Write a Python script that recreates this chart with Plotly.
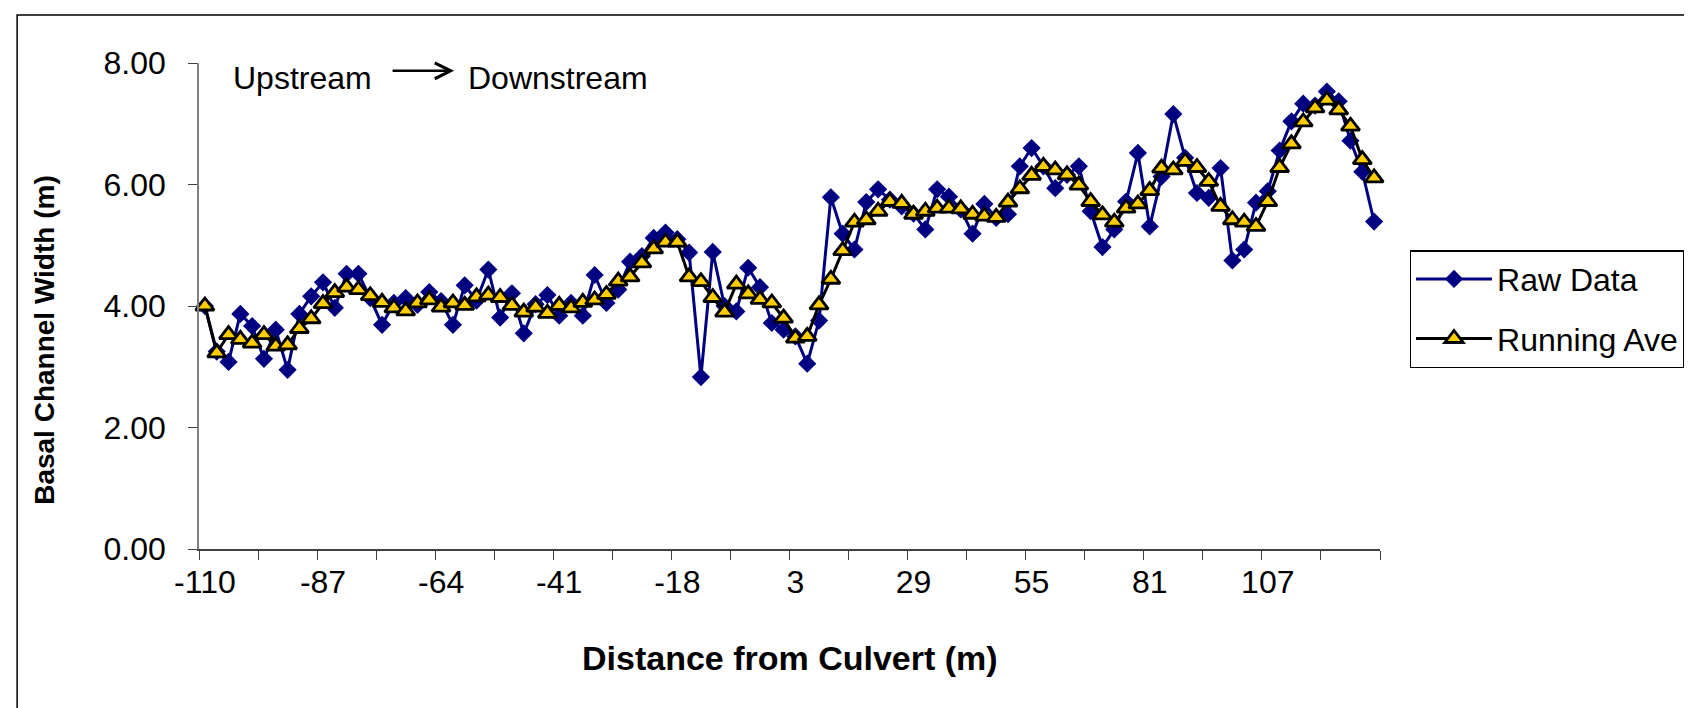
import plotly.graph_objects as go

# distance labels shown under every 10th survey point
tick_labels = ["-110", "-87", "-64", "-41", "-18", "3", "29", "55", "81", "107"]

raw_data = [
    4.00, 3.25, 3.08, 3.87, 3.67, 3.13, 3.61, 2.95, 3.87, 4.16,
    4.39, 3.97, 4.53, 4.53, 4.13, 3.69, 4.05, 4.13, 4.02, 4.23,
    4.08, 3.69, 4.34, 4.09, 4.60, 3.81, 4.21, 3.55, 4.03, 4.18,
    3.84, 4.05, 3.84, 4.51, 4.05, 4.27, 4.73, 4.82, 5.12, 5.21,
    5.10, 4.88, 2.83, 4.89, 4.00, 3.91, 4.63, 4.31, 3.72, 3.61,
    3.50, 3.05, 3.76, 5.79, 5.19, 4.93, 5.71, 5.92, 5.75, 5.64,
    5.52, 5.26, 5.92, 5.80, 5.59, 5.19, 5.68, 5.45, 5.51, 6.30,
    6.60, 6.30, 5.94, 6.16, 6.30, 5.56, 4.97, 5.26, 5.72, 6.52,
    5.31, 6.13, 7.16, 6.44, 5.86, 5.78, 6.27, 4.75, 4.93, 5.70,
    5.89, 6.56, 7.04, 7.33, 7.30, 7.53, 7.37, 6.72, 6.21, 5.39,
]

running_ave = [
    4.00, 3.23, 3.53, 3.45, 3.39, 3.53, 3.34, 3.36, 3.63, 3.79,
    4.04, 4.22, 4.31, 4.27, 4.17, 4.06, 3.97, 3.92, 4.05, 4.10,
    3.98, 4.05, 4.01, 4.15, 4.18, 4.14, 4.01, 3.90, 3.98, 3.88,
    4.01, 3.97, 4.06, 4.10, 4.19, 4.41, 4.48, 4.71, 4.94, 5.05,
    5.05, 4.48, 4.40, 4.14, 3.90, 4.36, 4.20, 4.11, 4.05, 3.80,
    3.47, 3.50, 4.02, 4.44, 4.91, 5.38, 5.42, 5.56, 5.72, 5.69,
    5.51, 5.56, 5.61, 5.61, 5.60, 5.51, 5.48, 5.46, 5.71, 5.93,
    6.15, 6.30, 6.24, 6.16, 5.99, 5.72, 5.50, 5.38, 5.61, 5.68,
    5.90, 6.27, 6.24, 6.38, 6.28, 6.05, 5.64, 5.42, 5.38, 5.31,
    5.72, 6.28, 6.67, 7.03, 7.26, 7.39, 7.23, 6.96, 6.41, 6.11,
]

pos = list(range(len(raw_data)))
FONT = "Liberation Sans, Arial, sans-serif"

fig = go.Figure()
fig.add_trace(go.Scatter(
    x=pos, y=raw_data, name="Raw Data", mode="lines+markers",
    line=dict(color="#000080", width=3),
    marker=dict(symbol="diamond", size=14, color="#000080"),
    cliponaxis=False, legendgroup="a",
))
fig.add_trace(go.Scatter(
    x=pos, y=running_ave, name="Running Ave", mode="lines+markers",
    line=dict(color="#000000", width=3),
    marker=dict(symbol="triangle-up", size=16, color="#FFCC00",
                line=dict(color="#000000", width=2.8)),
    cliponaxis=False, legendgroup="b",
))

fig.update_xaxes(
    range=[-0.5, len(pos) - 0.5],
    tickmode="array", tickvals=pos[::10], ticktext=tick_labels,
    ticks="", ticklabelstandoff=4,
    tickfont=dict(family=FONT, size=32, color="#000000"),
    showline=True, linecolor="#404040", linewidth=1.5,
    showgrid=False, zeroline=False,
    minor=dict(tickmode="array", tickvals=[p - 0.5 for p in pos[::5]] + [len(pos) - 0.5],
               ticks="outside", ticklen=9, tickwidth=1.3, tickcolor="#404040"),
)
fig.update_yaxes(
    range=[0, 8], tickvals=[0, 2, 4, 6, 8], tickformat=".2f",
    ticks="outside", ticklen=9, tickwidth=1.3, tickcolor="#404040",
    ticklabelstandoff=16,
    tickfont=dict(family=FONT, size=32, color="#000000"),
    showline=True, linecolor="#808080", linewidth=1.5,
    showgrid=False, zeroline=False,
)

fig.add_annotation(xref="paper", yref="paper", x=0.5, y=-0.224,
                   xanchor="center", yanchor="middle",
                   text="<b>Distance from Culvert (m)</b>", showarrow=False,
                   font=dict(family=FONT, size=34, color="#000000"))
fig.add_annotation(xref="paper", yref="paper", x=-0.131, y=0.431,
                   xanchor="center", yanchor="middle",
                   text="<b>Basal Channel Width (m)</b>", showarrow=False, textangle=-90,
                   font=dict(family=FONT, size=28, color="#000000"))

fig.add_annotation(xref="paper", yref="paper", x=0.027, y=0.97,
                   xanchor="left", yanchor="middle",
                   text="Upstream", showarrow=False,
                   font=dict(family=FONT, size=32, color="#000000"))
fig.add_annotation(xref="paper", yref="paper", x=0.2265, y=0.97,
                   xanchor="left", yanchor="middle",
                   text="Downstream", showarrow=False,
                   font=dict(family=FONT, size=32, color="#000000"))
fig.add_annotation(xref="paper", yref="paper", x=0.216, y=0.984, ax=-63, ay=0,
                   text="", showarrow=True, arrowhead=5, arrowsize=1.2,
                   arrowwidth=2.6, arrowcolor="#000000")

# outer chart frame
fig.add_shape(type="rect", xref="paper", yref="paper",
              x0=-0.154, x1=1.268, y0=-0.333, y1=1.099,
              line=dict(color="#000000", width=1.5))

fig.update_layout(
    width=1692, height=708,
    margin=dict(l=191, r=320, t=55, b=167),
    paper_bgcolor="#ffffff", plot_bgcolor="#ffffff",
    font=dict(family=FONT, color="#000000"),
    showlegend=True,
    legend=dict(x=1.025, y=0.615, xanchor="left", yanchor="top",
                bgcolor="#ffffff", bordercolor="#000000", borderwidth=1.5,
                font=dict(family=FONT, size=32, color="#000000"),
                itemwidth=76, tracegroupgap=15, traceorder="grouped"),
)

fig.write_html("out.html")
